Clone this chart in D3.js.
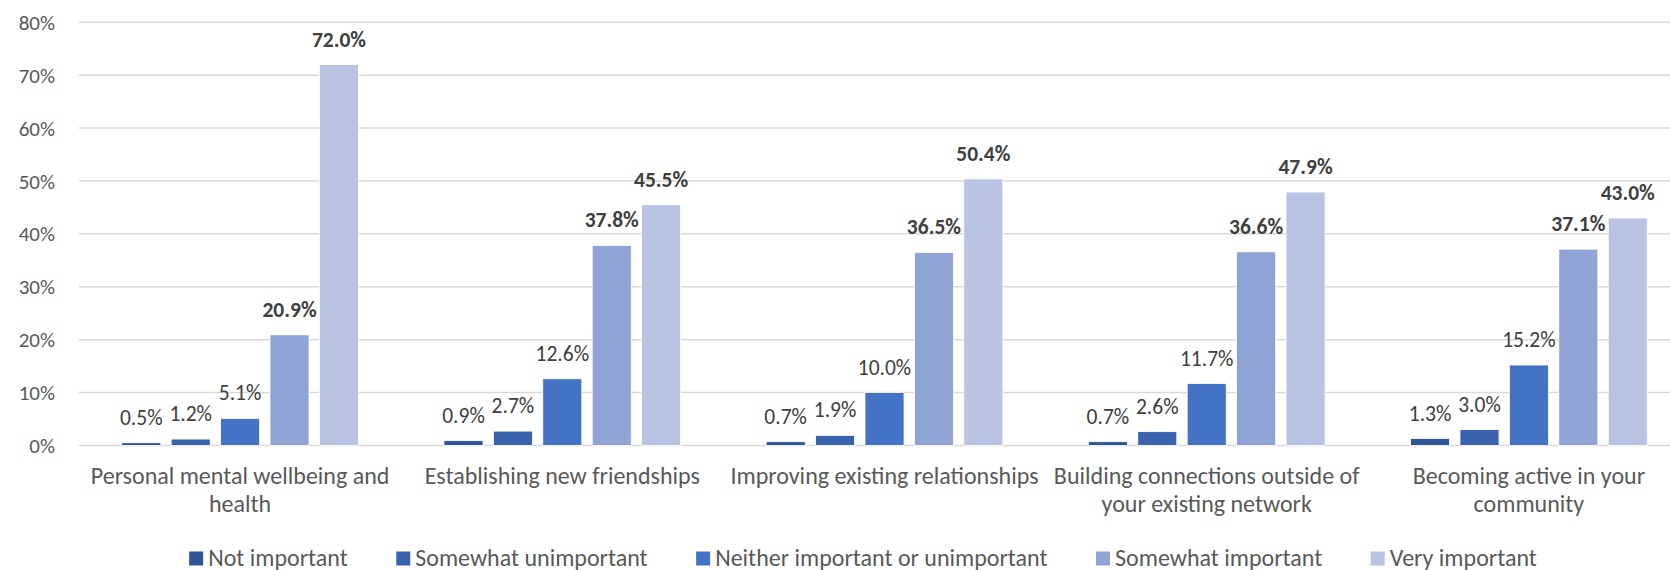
<!DOCTYPE html>
<html>
<head>
<meta charset="utf-8">
<script src="https://cdn.jsdelivr.net/npm/d3@7"></script>
<style>
  html, body { margin: 0; padding: 0; background: #fff; }
  svg { display: block; }
  text { font-family: Carlito, Calibri, Lato, sans-serif; }
</style>
</head>
<body>
<svg id="chart" width="1670" height="570"></svg>
<script>
// Survey: importance of each goal, share of respondents per rating
const categories = [
  "Personal mental wellbeing and health",
  "Establishing new friendships",
  "Improving existing relationships",
  "Building connections outside of your existing network",
  "Becoming active in your community"
];
const categoryLines = [
  ["Personal mental wellbeing and", "health"],
  ["Establishing new friendships"],
  ["Improving existing relationships"],
  ["Building connections outside of", "your existing network"],
  ["Becoming active in your", "community"]
];
const seriesNames = [
  "Not important",
  "Somewhat unimportant",
  "Neither important or unimportant",
  "Somewhat important",
  "Very important"
];
const notImportant        = [0.5, 0.9, 0.7, 0.7, 1.3];
const somewhatUnimportant = [1.2, 2.7, 1.9, 2.6, 3.0];
const neitherImportant    = [5.1, 12.6, 10.0, 11.7, 15.2];
const somewhatImportant   = [20.9, 37.8, 36.5, 36.6, 37.1];
const veryImportant       = [72.0, 45.5, 50.4, 47.9, 43.0];
const yTicks = [0, 10, 20, 30, 40, 50, 60, 70, 80];

const seriesValues = [notImportant, somewhatUnimportant, neitherImportant, somewhatImportant, veryImportant];
const colors = ["#2F5597", "#3A62AD", "#4472C4", "#8FA3D4", "#B9C3E2"];
const boldSeries = [false, false, false, true, true];

const svg = d3.select("#chart");
const plot = { left: 79, right: 1690, top: 22.3, bottom: 445.4 };

const x0 = d3.scaleBand().domain(categories).range([plot.left, plot.right]).padding(0);
const x1 = d3.scaleBand().domain(seriesNames).range([0, x0.bandwidth()])
  .paddingInner(0.21).paddingOuter(0.865);
const y = d3.scaleLinear().domain([0, 80]).range([plot.bottom, plot.top]);

// Horizontal gridlines
svg.append("g")
  .selectAll("line")
  .data(yTicks)
  .join("line")
  .attr("x1", plot.left)
  .attr("x2", 1670)
  .attr("y1", d => y(d))
  .attr("y2", d => y(d))
  .attr("stroke", "#d9d9d9")
  .attr("stroke-width", 1.5);

// Y axis labels
const yAxis = d3.axisLeft(y).tickValues(yTicks).tickFormat(d => d + "%").tickSize(0).tickPadding(0);
const yg = svg.append("g").attr("transform", `translate(55,0)`).call(yAxis);
yg.select(".domain").remove();
yg.selectAll("text")
  .attr("font-size", 21)
  .attr("fill", "#595959")
  .attr("font-family", "Carlito, Calibri, Lato, sans-serif")
  .attr("dy", "0.34em");

// Bars grouped by category
const rows = categories.map((c, i) => ({
  category: c,
  values: seriesNames.map((s, k) => ({ series: s, k, value: seriesValues[k][i] }))
}));

const groups = svg.append("g")
  .selectAll("g")
  .data(rows)
  .join("g")
  .attr("transform", d => `translate(${x0(d.category)},0)`);

groups.selectAll("rect")
  .data(d => d.values)
  .join("rect")
  .attr("x", d => x1(d.series))
  .attr("width", x1.bandwidth())
  .attr("y", d => y(d.value))
  .attr("height", d => y(0) - y(d.value))
  .attr("fill", d => colors[d.k])
  .attr("stroke", "#ffffff")
  .attr("stroke-width", 0.8);

groups.selectAll("text.value")
  .data(d => d.values)
  .join("text")
  .attr("class", "value")
  .attr("x", d => x1(d.series) + x1.bandwidth() / 2)
  .attr("y", d => y(d.value) - 18)
  .attr("text-anchor", "middle")
  .attr("font-size", 21.5)
  .attr("font-weight", d => boldSeries[d.k] ? "bold" : "normal")
  .attr("fill", "#404040")
  .text(d => d.value.toFixed(1) + "%");

// Category labels
const xg = svg.append("g");
categories.forEach((c, i) => {
  const cx = x0(c) + x0.bandwidth() / 2;
  const t = xg.append("text")
    .attr("text-anchor", "middle")
    .attr("font-size", 24)
    .attr("fill", "#595959");
  categoryLines[i].forEach((line, j) => {
    t.append("tspan").attr("x", cx).attr("y", 484 + j * 28).text(line);
  });
});

// Legend
const legend = svg.append("g");
let lx = 0;
seriesNames.forEach((s, k) => {
  const g = legend.append("g").attr("transform", `translate(${lx},0)`);
  g.append("rect").attr("x", 0).attr("y", 551.5).attr("width", 14).attr("height", 14).attr("fill", colors[k]);
  const t = g.append("text").attr("x", 19).attr("y", 565.5)
    .attr("font-size", 24).attr("fill", "#595959").text(s);
  const w = t.node().getComputedTextLength();
  lx += 19 + w + 48.5;
});
const legendWidth = lx - 48.5;
legend.attr("transform", `translate(${863 - legendWidth / 2},0)`);
</script>
</body>
</html>
